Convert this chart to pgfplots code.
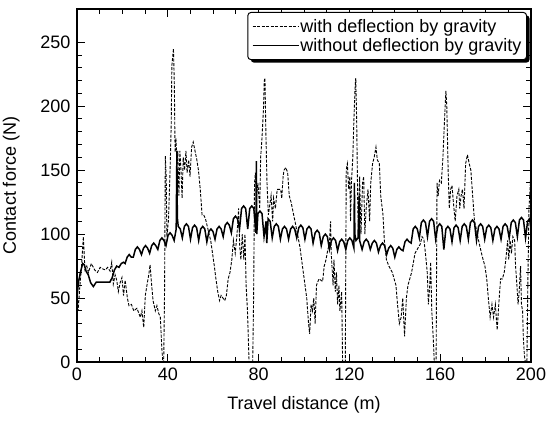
\documentclass[border=0pt]{standalone}
\usepackage{pgfplots}
\pgfplotsset{compat=1.18}
\usepackage{fontspec}
\setmainfont{Liberation Sans}
\usetikzlibrary{shadows}
\makeatletter
\tikzset{no preactions/.code={\let\tikz@preactions=\pgfutil@empty}}
\makeatother
\begin{document}
\begin{tikzpicture}
\begin{axis}[
  scale only axis,
  width=454pt, height=353pt,
  xmin=0, xmax=200, ymin=0, ymax=276,
  xtick={0,40,80,120,160,200},
  ytick={0,50,100,150,200,250},
  minor x tick num=3,
  minor y tick num=4,
  tick align=inside,
  major tick length=8pt,
  minor tick length=5pt,
  axis line style={line width=1.3pt},
  every tick/.style={line width=1pt, black},
  font=\fontsize{18}{21}\selectfont,
  /pgf/number format/assume math mode=true,
  ticklabel style={font=\fontsize{18}{21}\selectfont},
  yticklabel style={xshift=-3pt},
  xticklabel style={yshift=-2pt},
  xlabel={Travel distance (m)},
  ylabel={Contact force (N)},
  xlabel style={at={(axis description cs:0.5,-0.122)}, anchor=center},
  ylabel style={at={(axis description cs:-0.145,0.5)}, anchor=center},
  legend cell align=left,
  legend style={at={(1,1)}, anchor=north east, xshift=-4pt, yshift=-3pt,
    draw=black, line width=1pt, rounded corners=3pt,
    font=\fontsize{18}{19}\selectfont,
    inner xsep=4pt, inner ysep=5pt, row sep=0pt,
    nodes={inner xsep=1pt, inner ysep=2pt},
    drop shadow={shadow xshift=3pt, shadow yshift=-3pt, fill=black, opacity=1}},
  legend image code/.code={\draw[no preactions, #1] (0pt,0pt) -- (46pt,0pt);},
]
\addplot[black, line width=0.9pt, dash pattern=on 3pt off 1.5pt] coordinates {
(0,55) (0.5,40) (1.2,58) (2.0,75) (2.8,98) (3.5,72) (4.3,75) (5.0,70) (6.3,77) (7.8,72)
(9.0,70) (10.2,74) (11.0,73) (12.5,72) (13.5,74) (14.6,71) (15.3,78) (16.0,61) (16.8,68) (17.5,64)
(18.2,55) (19.0,62) (19.8,66) (20.5,52) (21.2,64) (22.2,50) (22.9,44) (24.0,45) (25.0,40) (26.4,42)
(27.9,35) (28.6,40) (29.4,27) (30.1,52) (31.0,62) (31.6,68) (32.2,76) (32.8,62) (33.5,48) (34.5,40)
(35.2,44) (36.0,38) (36.7,35) (37.4,10) (37.8,0) (38.2,0) (38.6,60) (38.9,161) (39.3,145) (39.6,98)
(40.3,111) (41.0,150) (41.5,185) (41.8,232) (42.5,245) (42.9,215) (43.2,164) (43.6,175) (44.0,155) (44.4,165)
(44.9,130) (45.3,165) (45.8,150) (46.3,128) (46.8,160) (47.4,150) (48.0,165) (48.5,148) (49.2,158) (49.8,145)
(50.5,168) (51.2,172) (52.0,165) (52.8,158) (53.5,150) (54.3,135) (55.1,115) (55.8,115) (56.6,112) (58.2,100)
(58.9,95) (60.5,75) (61.2,65) (62.0,55) (62.8,48) (63.5,52) (64.3,50) (65.1,48) (65.8,52) (66.6,65)
(67.4,70) (68.2,80) (68.9,95) (69.7,85) (70.5,100) (71.2,120) (71.7,90) (72.2,80) (72.8,100) (73.5,80)
(74.0,100) (74.5,60) (75.1,40) (75.8,0) (77.4,0) (77.8,50) (78.2,140) (78.6,148) (79.1,130) (79.7,140)
(80.5,120) (80.9,160) (81.5,175) (82.2,200) (82.5,220) (82.8,222) (83.2,180) (83.7,140) (84.3,115) (85.1,125)
(85.5,130) (86.2,110) (86.6,128) (87.4,120) (88.2,135) (89.7,135) (90.2,128) (90.8,145) (91.2,150) (92.0,152)
(92.8,148) (93.5,130) (94.3,125) (95.1,118) (96.6,105) (98.2,90) (99.7,70) (101.2,50) (102.0,30) (102.5,22)
(103.1,45) (103.7,40) (104.3,50) (104.9,30) (105.5,60) (106.6,65) (108.2,63) (108.9,75) (109.7,80) (110.5,88)
(111.2,92) (111.7,110) (112.0,85) (112.8,60) (113.2,80) (113.8,55) (114.3,70) (114.8,45) (115.4,60) (115.8,40)
(116.6,55) (117.0,0) (118.2,0) (118.6,150) (119.1,155) (119.7,135) (120.2,145) (120.5,110) (120.9,140) (121.5,160)
(122.0,190) (122.5,215) (122.8,222) (123.2,190) (123.7,120) (124.0,105) (124.5,145) (125.1,100) (125.8,140) (126.3,145)
(126.8,100) (127.4,120) (128.2,135) (128.9,110) (129.4,140) (130.2,155) (130.9,160) (131.7,168) (132.3,158) (133.2,155)
(133.8,130) (134.8,115) (135.4,95) (136.3,80) (137.4,75) (138.9,70) (140.5,60) (141.2,45) (142.0,30) (142.8,35)
(143.5,50) (144.3,20) (145.1,50) (145.8,60) (147.4,70) (148.9,85) (150.5,90) (151.2,92) (152.0,98) (152.8,96)
(153.5,85) (154.3,70) (154.8,45) (155.4,60) (155.8,78) (156.3,40) (156.9,20) (157.4,0) (158.2,0) (158.6,140)
(159.1,130) (159.7,142) (160.5,140) (161.2,160) (161.8,185) (162.5,212) (162.9,200) (163.5,150) (164.0,120) (164.6,135)
(165.2,138) (165.8,125) (166.6,110) (167.4,130) (168.2,135) (168.6,120) (169.2,130) (169.8,135) (170.5,120) (171.2,155)
(172.0,162) (172.8,155) (173.5,150) (174.3,130) (175.1,110) (175.8,105) (176.9,95) (178.2,85) (178.9,80) (179.7,75)
(180.5,65) (181.2,50) (182.0,35) (182.8,45) (183.5,35) (184.3,45) (185.1,25) (185.8,45) (186.6,65) (187.4,65)
(188.2,70) (188.9,80) (189.7,95) (190.2,80) (190.8,95) (191.4,85) (192.0,98) (192.8,95) (193.2,75) (193.8,60)
(194.3,45) (194.8,55) (195.4,75) (195.8,45) (196.3,40) (196.6,20) (197.1,5) (197.5,0) (198.2,0) (198.6,60)
(199.1,120) (199.7,140) (200,138)
};
\addlegendentry{with deflection by gravity}
\addplot[black, line width=1.5pt] coordinates {
(0,50) (0.6,62) (1.5,70) (2.5,77) (3.2,76) (4.0,71) (5.0,68) (6.0,62) (7.2,59) (8.5,62.5)
(10,62.5) (12,62.5) (14.5,62.5) (15.5,66) (16.5,72) (17.5,75) (18.5,74) (19.5,77) (20.5,78)
(21.2,77) (22.1,82) (23.0,84) (23.9,82)
(24.8,82) (25.7,88) (26.6,90) (27.5,88)
(28.4,84) (29.3,89) (30.2,91) (31.1,89)
(32.0,85) (32.9,91) (33.8,93) (34.7,91)
(35.6,88) (36.5,95) (37.4,97) (38.3,95)
(39.2,91) (40.1,99) (41.0,101) (41.9,99)
(42.8,95) (43.7,104) (44.0,165) (44.2,113) (44.6,106) (45.5,104)
(46.4,97) (47.3,106) (48.2,108) (49.1,106)
(50.0,96) (50.9,105) (51.8,107) (52.7,105)
(53.6,95) (54.5,104) (55.4,106) (56.3,104)
(57.2,94) (58.1,102) (59.0,104) (59.9,102)
(60.8,96) (61.7,104) (62.6,106) (63.5,104)
(64.4,98) (65.3,107) (66.2,109) (67.1,107)
(68.0,101) (68.9,112) (69.8,114) (70.7,112)
(71.6,104) (72.5,120) (73.4,122) (74.3,120)
(75.2,104) (76.1,120) (77.0,122) (77.9,120)
(78.8,101) (79.0,157) (79.2,100) (79.7,116) (80.6,118) (81.5,116)
(82.4,98) (83.3,110) (83.6,93) (84.2,112) (85.1,110)
(86.0,97) (86.9,106) (87.8,108) (88.7,106)
(89.6,96) (90.5,104) (91.4,106) (92.3,104)
(93.2,96) (94.1,104) (95.0,106) (95.9,104)
(96.8,97) (97.7,105) (98.6,107) (99.5,105)
(100.4,96) (101.3,104) (102.2,106) (103.1,104)
(104.0,93) (104.9,101) (105.8,103) (106.7,101)
(107.6,91) (108.5,98) (109.4,100) (110.3,98)
(111.2,88) (112.1,95) (113.0,97) (113.9,95)
(114.8,87) (115.7,94) (116.6,96) (117.5,94)
(118.4,88) (119.3,95) (120.2,97) (121.1,95)
(122.0,89) (122.2,140) (122.4,100) (122.9,95) (123.8,97) (124.3,130) (124.5,95)
(125.6,88) (126.5,94) (127.4,96) (128.3,94)
(129.2,88) (130.1,93) (131.0,95) (131.9,93)
(132.8,86) (133.7,91) (134.6,93) (135.5,91)
(136.4,84) (137.3,89) (138.2,91) (139.1,89)
(140.0,82) (140.9,88) (141.8,90) (142.7,88)
(143.6,87) (144.5,94) (145.4,96) (146.3,94)
(147.2,93) (148.1,104) (149.0,106) (149.9,104)
(150.8,97) (151.7,109) (152.6,111) (153.5,109)
(154.4,98) (155.3,110) (156.2,112) (157.1,110)
(158.0,96) (158.9,106) (159.8,108) (160.7,106)
(161.6,88) (162.5,104) (163.4,106) (164.3,104)
(165.2,94) (166.1,105) (167.0,107) (167.9,105)
(168.8,95) (169.7,106) (170.6,108) (171.5,106)
(172.4,96) (173.3,109) (174.2,111) (175.1,109)
(176.0,95) (176.9,106) (177.8,108) (178.7,106)
(179.6,96) (180.5,105) (181.4,107) (182.3,105)
(183.2,95) (184.1,104) (185.0,106) (185.9,104)
(186.8,96) (187.7,106) (188.6,108) (189.5,106)
(190.4,97) (191.3,109) (192.2,111) (193.1,109)
(194.0,98) (194.9,111) (195.8,113) (196.7,111)
(197.6,97) (198.5,110) (199.4,112) (200,104)
};
\addlegendentry{without deflection by gravity}
\end{axis}
\pgfresetboundingbox
\path[use as bounding box] ([xshift=-77pt,yshift=-63pt]current axis.south west) rectangle ([xshift=15pt,yshift=9pt]current axis.north east);
\end{tikzpicture}
\end{document}
